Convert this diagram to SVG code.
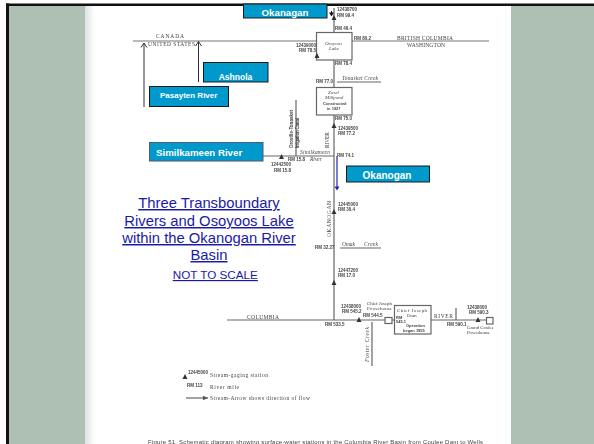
<svg xmlns="http://www.w3.org/2000/svg" width="594" height="444" viewBox="0 0 594 444">
<defs>
<marker id="open" markerWidth="9" markerHeight="9" refX="8" refY="4.500" orient="auto" markerUnits="userSpaceOnUse"><path d="M3.500 1.500L8 4.500L3.500 7.500" fill="none" stroke="#333" stroke-width="1"/></marker>
<marker id="flow" markerWidth="6" markerHeight="6" refX="5" refY="3" orient="auto" markerUnits="userSpaceOnUse"><path d="M0 0.800L5 3L0 5.200z" fill="#555"/></marker>
<filter id="blur" x="-5%" y="-5%" width="110%" height="110%"><feGaussianBlur stdDeviation="0.5"/></filter>
<linearGradient id="edge" x1="0" x2="1" y1="0" y2="0"><stop offset="0" stop-color="#dfe3e4"/><stop offset="1" stop-color="#fff"/></linearGradient>
</defs>
<style>
.lab{font-family:"Liberation Sans",Arial,sans-serif;font-weight:bold;fill:#fff}
.box{fill:#0099cc;stroke:#1a1a1a;stroke-width:1}
.ttl{font-family:"Liberation Sans",Arial,sans-serif;fill:#1a1aa6;text-anchor:middle;text-decoration:underline}
.scan{font-family:"Liberation Serif","Times New Roman",serif;fill:#444;font-size:5.500px}
.sans{font-family:"Liberation Sans",Arial,sans-serif;fill:#444;font-size:4.500px;font-weight:bold}
.ln{stroke:#777;stroke-width:1;fill:none}
.dk{stroke:#666;stroke-width:1.200;fill:none}
.tri{fill:#333}
</style>
<rect width="594" height="444" fill="#fff"/>
<rect x="85" y="6" width="10" height="438" fill="url(#edge)"/>
<rect x="9" y="6" width="76" height="438" fill="#aebfb4"/>
<rect x="511" y="6" width="83" height="438" fill="#aebfb4"/>
<rect x="6" y="3.500" width="588" height="2.500" fill="#111"/>
<rect x="6" y="3.500" width="3" height="440.500" fill="#111"/>
<g id="scan" filter="url(#blur)">
<path class="ln" d="M133 41H316M352 41H489"/>
<path class="dk" d="M334 8V32M334 60V87M334 115V320M227 320H385M392 320H394M431 320H486"/>
<rect class="dk" x="316.500" y="32.500" width="35.500" height="27.500"/>
<rect class="dk" x="316.500" y="87.500" width="35.500" height="27.500"/>
<rect class="dk" x="394.500" y="305.500" width="36.500" height="28.500"/>
<path class="dk" d="M263 156H334M296 156V100M337 82H381M340 248H381M372 366V322M456 308V320"/>
<rect class="dk" x="385" y="317.500" width="7" height="6"/>
<rect class="dk" x="486.500" y="317.500" width="6.500" height="6.500"/>
<path class="tri" d="M334 15l2.500 5h-5zM317 53l2.500 5h-5zM334 123l2.500 5h-5zM281.500 154l2.500 5h-5zM334 209l2.500 5h-5zM334 280l2.500 5h-5zM359 317l2.500 5h-5zM478 317l2.500 5h-5zM185 374l2.500 5h-5z"/>
<text class="scan" x="156" y="38" textLength="28">CANADA</text>
<text class="scan" x="148" y="46" textLength="47">UNITED STATES</text>
<text class="scan" x="397" y="40" textLength="56">BRITISH COLUMBIA</text>
<text class="scan" x="407" y="47" textLength="38">WASHINGTON</text>
<text class="sans" x="337" y="11">12438700</text>
<text class="sans" x="337" y="17">RM 99.4</text>
<text class="sans" x="296" y="47">12439000</text>
<text class="sans" x="299" y="52">RM 78.5</text>
<text class="sans" x="335" y="30">RM 46.4</text>
<text class="sans" x="354" y="40">RM 80.2</text>
<text class="sans" x="335" y="65">RM 78.4</text>
<text class="scan" x="325" y="45" font-style="italic" style="font-size:5px">Osoyoos</text>
<text class="scan" x="329" y="50" font-style="italic" style="font-size:5px">Lake</text>
<text class="sans" x="316" y="83">RM 77.0</text>
<text class="scan" x="342" y="80" font-style="italic" textLength="36">Tonasket Creek</text>
<text class="scan" x="328" y="94" font-style="italic" style="font-size:5px">Zosel</text>
<text class="scan" x="325" y="99" font-style="italic" style="font-size:5px">Millpond</text>
<text class="sans" x="323" y="105" style="font-size:4px">Constructed</text>
<text class="sans" x="327" y="110" style="font-size:4px">in 1927</text>
<text class="sans" x="335" y="120">RM 75.0</text>
<text class="sans" x="338" y="130">12439500</text>
<text class="sans" x="338" y="135">RM 77.2</text>
<text class="scan" x="329" y="148" transform="rotate(-90 329 148)" textLength="16">RIVER</text>
<text class="sans" x="293" y="148" transform="rotate(-90 293 148)" textLength="38">Oroville-Tonasket</text>
<text class="sans" x="299" y="148" transform="rotate(-90 299 148)" textLength="30">Irrigation Canal</text>
<text class="scan" x="300" y="154" font-style="italic" textLength="30">Similkameen</text>
<text class="sans" x="288" y="161">RM 15.8</text>
<text class="scan" x="310" y="161" font-style="italic">River</text>
<text class="sans" x="337" y="157">RM 74.1</text>
<text class="sans" x="271" y="166">12442500</text>
<text class="sans" x="274" y="172">RM 15.8</text>
<text class="sans" x="338" y="206">12445000</text>
<text class="sans" x="338" y="211">RM 30.4</text>
<text class="scan" x="331" y="237" transform="rotate(-90 331 237)" textLength="36">OKANOGAN</text>
<text class="sans" x="315" y="249">RM 32.27</text>
<text class="scan" x="342" y="246" font-style="italic" textLength="13">Omak</text>
<text class="scan" x="364" y="246" font-style="italic" textLength="14">Creek</text>
<text class="sans" x="338" y="272">12447200</text>
<text class="sans" x="338" y="277">RM 17.0</text>
<text class="scan" x="247" y="319" textLength="32">COLUMBIA</text>
<text class="sans" x="341" y="308">12438000</text>
<text class="sans" x="342" y="313">RM 545.2</text>
<text class="sans" x="325" y="326">RM 533.5</text>
<text class="sans" x="363" y="317">RM 544.5</text>
<text class="scan" x="367" y="305" textLength="25" style="font-size:5px">Chief Joseph</text>
<text class="scan" x="367" y="310" textLength="25" style="font-size:5px">Powerhouse</text>
<text class="scan" x="397" y="312" textLength="30" style="font-size:5px">Chief Joseph</text>
<text class="scan" x="407" y="317" style="font-size:5px">Dam</text>
<text class="sans" x="396" y="319" style="font-size:4px">RM</text>
<text class="sans" x="396" y="323" style="font-size:4px">545.1</text>
<text class="sans" x="406" y="327" style="font-size:4px">Operation</text>
<text class="sans" x="403" y="332" style="font-size:4px">began 1955</text>
<text class="scan" x="434" y="318" textLength="19">RIVER</text>
<text class="sans" x="447" y="326">RM 590.1</text>
<text class="sans" x="467" y="309">12438000</text>
<text class="sans" x="469" y="314">RM 590.3</text>
<text class="scan" x="467" y="329" style="font-size:5px" textLength="27">Grand Coulee</text>
<text class="scan" x="467" y="334" style="font-size:5px" textLength="23">Powerhouse</text>
<text class="scan" x="369" y="362" font-style="italic" transform="rotate(-90 369 362)" textLength="35">Foster   Creek</text>
<text class="sans" x="188" y="374">12445000</text>
<text class="scan" x="210" y="377" textLength="58">Stream-gaging  station</text>
<text class="sans" x="187" y="387">RM 113</text>
<text class="scan" x="210" y="389" textLength="29">River  mile</text>
<path class="dk" d="M186 398H208" marker-end="url(#flow)"/>
<text class="scan" x="210" y="400" textLength="100">Stream-Arrow  shows  direction  of  flow</text>
<text class="sans" x="148" y="444" style="font-size:6px;font-weight:normal" textLength="335">Figure 51. Schematic diagram showing surface-water stations in the Columbia River Basin from Coulee Dam to Wells</text>
</g>
<g id="connectors">
<path d="M144 107V43" stroke="#333" stroke-width="1" fill="none" marker-end="url(#open)"/>
<path d="M198.500 82V41.500" stroke="#333" stroke-width="1" fill="none" marker-end="url(#open)"/>
<path d="M337 156V187" stroke="#2222bb" stroke-width="1.200" fill="none"/>
<path d="M334.500 186.500h5l-2.500 4z" fill="#2222bb"/>
<path d="M331.500 11v2" stroke="#111" stroke-width="1"/>
<path d="M329 12.500h5l-2.500 4z" fill="#111"/>
</g>
<g id="okanagan-top"><rect class="box" x="243.500" y="4" width="83.500" height="14"/><text class="lab" x="285" y="16" text-anchor="middle" font-size="9.700">Okanagan</text></g>
<g id="ashnola"><rect class="box" x="203.500" y="62.500" width="64.500" height="19.500"/><text class="lab" x="235.500" y="80" text-anchor="middle" font-size="8.500">Ashnola</text></g>
<g id="pasayten"><rect class="box" x="149.500" y="86.500" width="79" height="20"/><text class="lab" x="160" y="98" font-size="8">Pasayten River</text></g>
<g id="similkameen"><rect class="box" x="149.500" y="142.500" width="113.500" height="18.500" style="stroke:#557"/><text class="lab" x="156" y="156" font-size="9.700">Similkameen River</text></g>
<g id="okanogan"><rect class="box" x="346.500" y="166" width="83" height="16"/><text class="lab" x="387" y="179" text-anchor="middle" font-size="10">Okanogan</text></g>
<g id="title">
<text class="ttl" x="209" y="208" font-size="14.800">Three Transboundary</text>
<text class="ttl" x="209" y="226" font-size="14.800">Rivers and Osoyoos Lake</text>
<text class="ttl" x="209" y="243" font-size="14.800">within the Okanogan River</text>
<text class="ttl" x="209" y="260" font-size="14.800">Basin</text>
<text class="ttl" x="215.300" y="279" font-size="11.700">NOT TO SCALE</text>
</g>
</svg>
